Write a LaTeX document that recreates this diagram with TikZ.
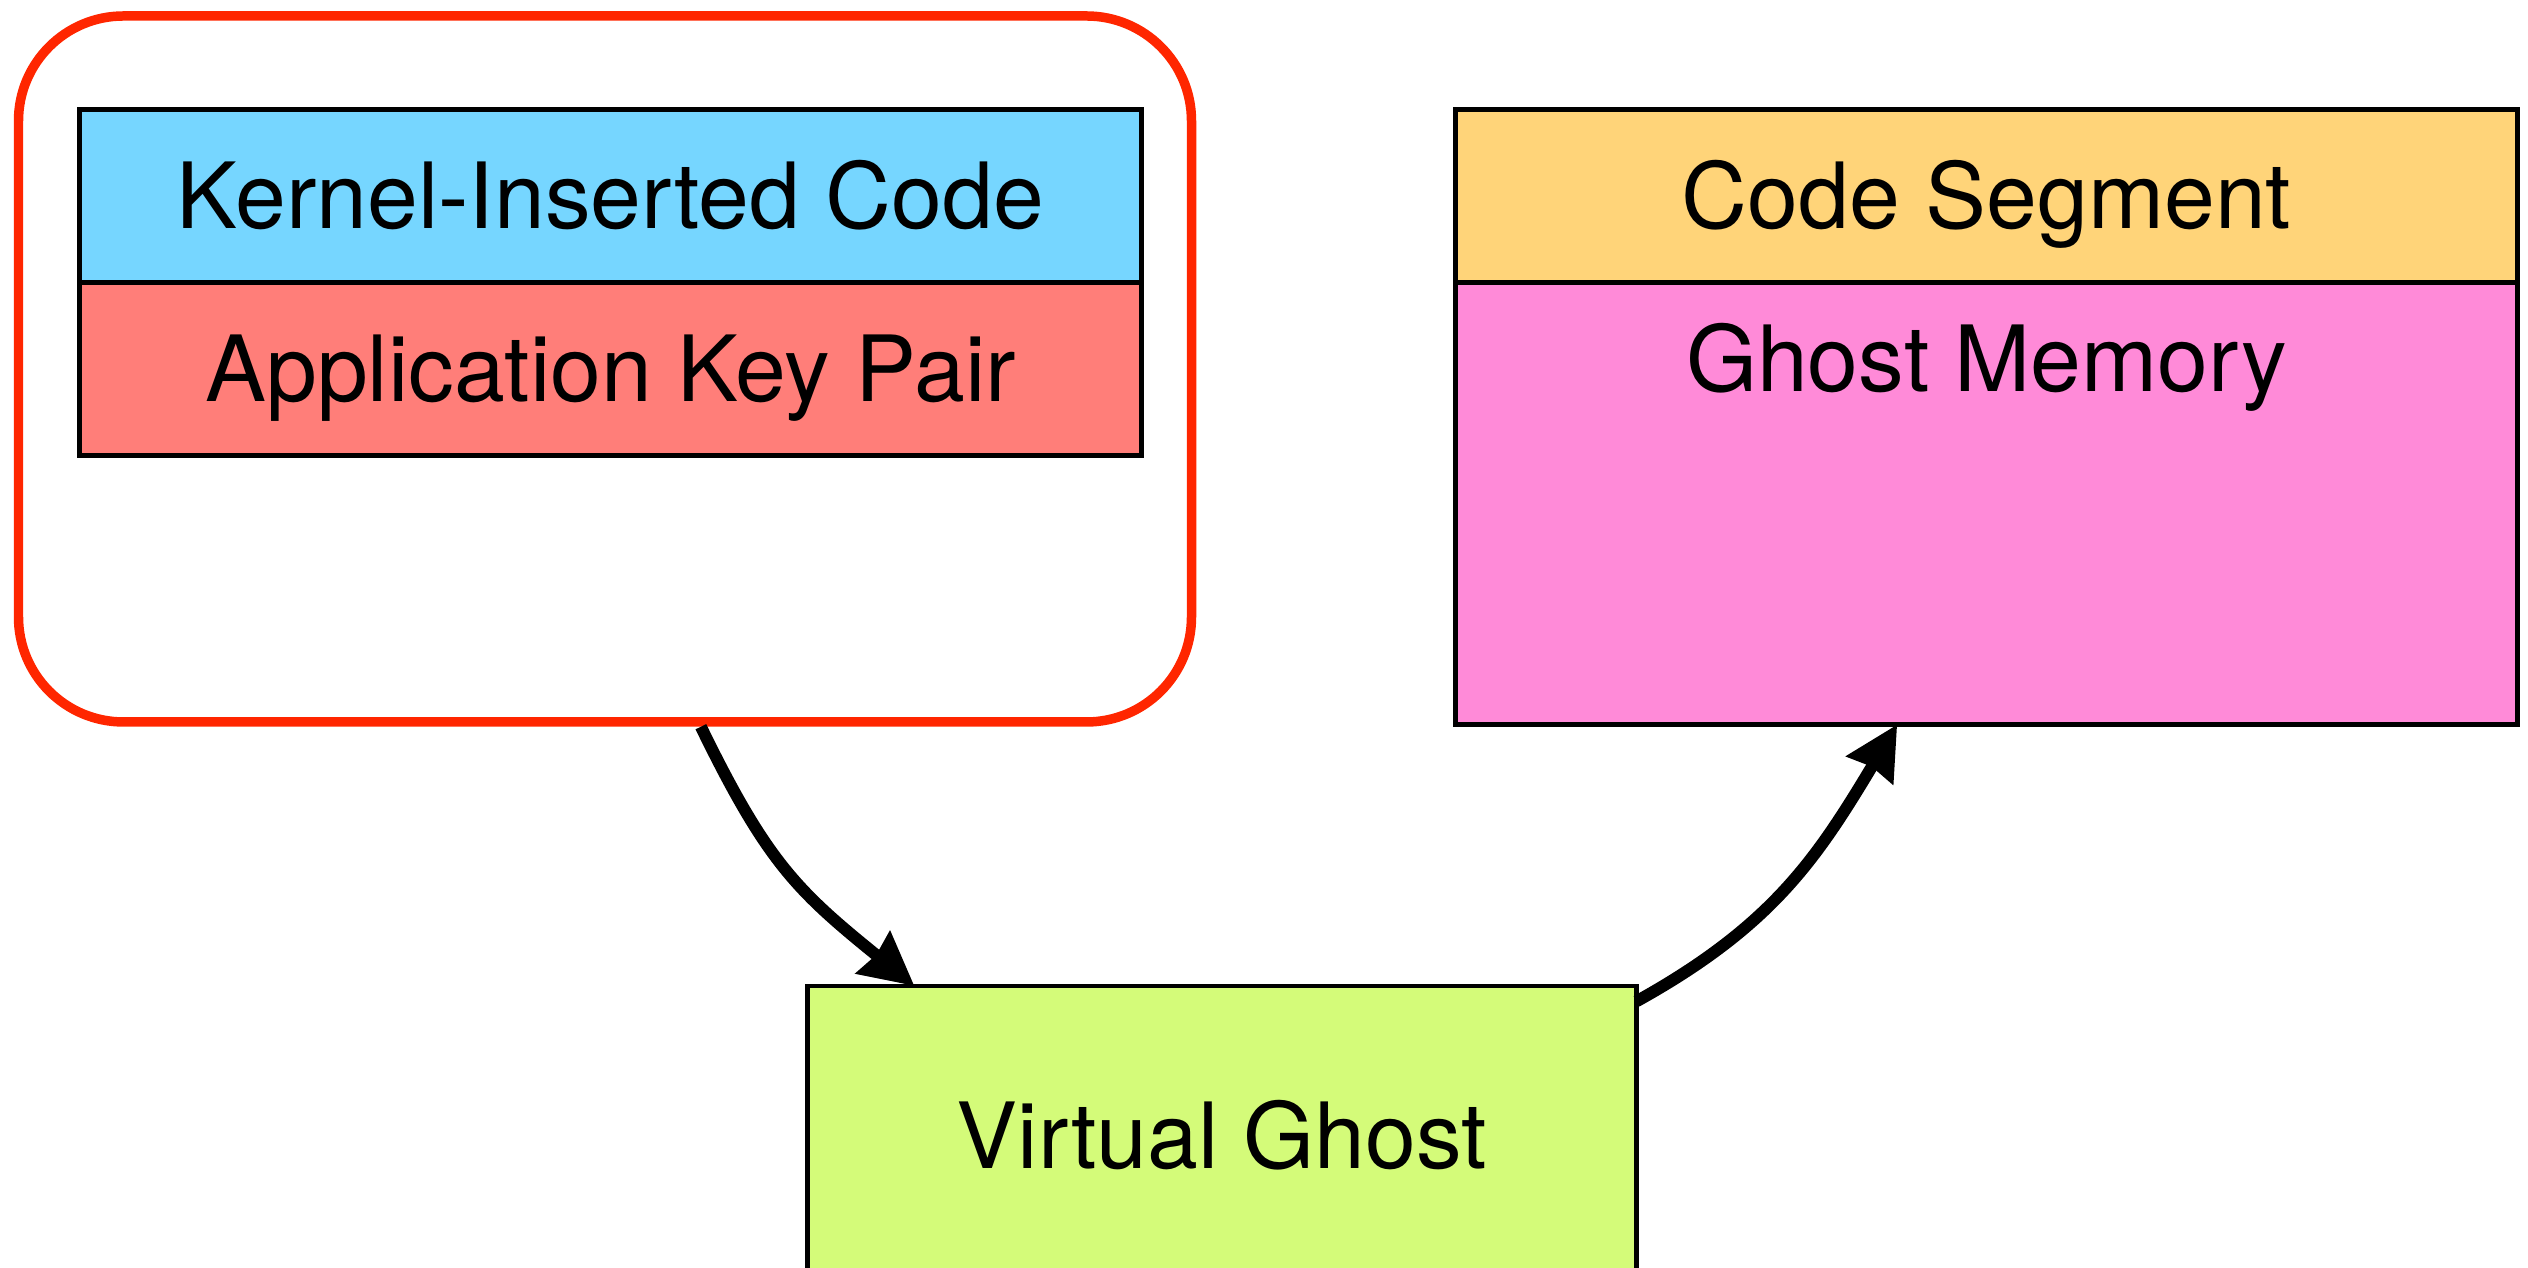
\documentclass[tikz,border=0pt]{standalone}
\usepackage{fontspec}
\setmainfont{TeX Gyre Heros}
\usetikzlibrary{arrows.meta,positioning}

\definecolor{appred}{RGB}{255,38,0}
\definecolor{kernelblue}{RGB}{118,214,255}
\definecolor{keysalmon}{RGB}{255,126,121}
\definecolor{codeorange}{RGB}{255,212,121}
\definecolor{ghostpink}{RGB}{255,138,216}
\definecolor{vgreen}{RGB}{212,251,121}

\begin{document}
\begin{tikzpicture}[>={Stealth[length=15pt,width=15pt,inset=1pt]},
    lbl/.style={font=\fontsize{26}{31}\selectfont},
    box/.style={lbl, draw, line width=1.3pt, outer sep=0pt,
                minimum width=10.62cm, text height=18.7pt, text depth=0pt}]
    % Define size of the boxes
    \def\boxw{10.62}
    \def\boxh{1.73}

    \useasboundingbox (0,0) rectangle (25.28,12.68);

    % Draw application container
    \node[draw=appred, line width=2.7pt, rounded corners=1.05cm,
          minimum width=11.73cm, minimum height=7.06cm] (app) at (6.05,8.99) {};

    % Draw kernel code and key pair
    \node[box, fill=kernelblue, minimum height=\boxh cm] (kernel) at (6.105,10.72) {Kernel-Inserted Code};
    \node[box, fill=keysalmon, minimum height=\boxh cm, below=0pt of kernel] (keypair) {Application Key Pair};

    % Draw code segment and ghost memory
    \node[box, fill=codeorange, minimum height=\boxh cm] (code) at (19.865,10.72) {Code Segment};
    \node[box, fill=ghostpink, minimum height=4.42cm, below=0pt of code] (ghost) {};
    \node[lbl, anchor=base] (ghostlabel) at ([yshift=-1.09cm]ghost.north) {Ghost Memory};

    % Draw virtual ghost
    \node[box, fill=vgreen, minimum width=8.29cm, minimum height=3cm] (vg) at (12.22,1.32) {Virtual Ghost};

    % Draw flow arrows
    \draw[->, line width=3.4pt] (app.-75) to[out=-64, in=141, looseness=1.15] (vg.154);
    \draw[->, line width=3.4pt] (vg.18) to[out=29, in=239, looseness=1.05] (ghost.248);

\end{tikzpicture}
\end{document}
